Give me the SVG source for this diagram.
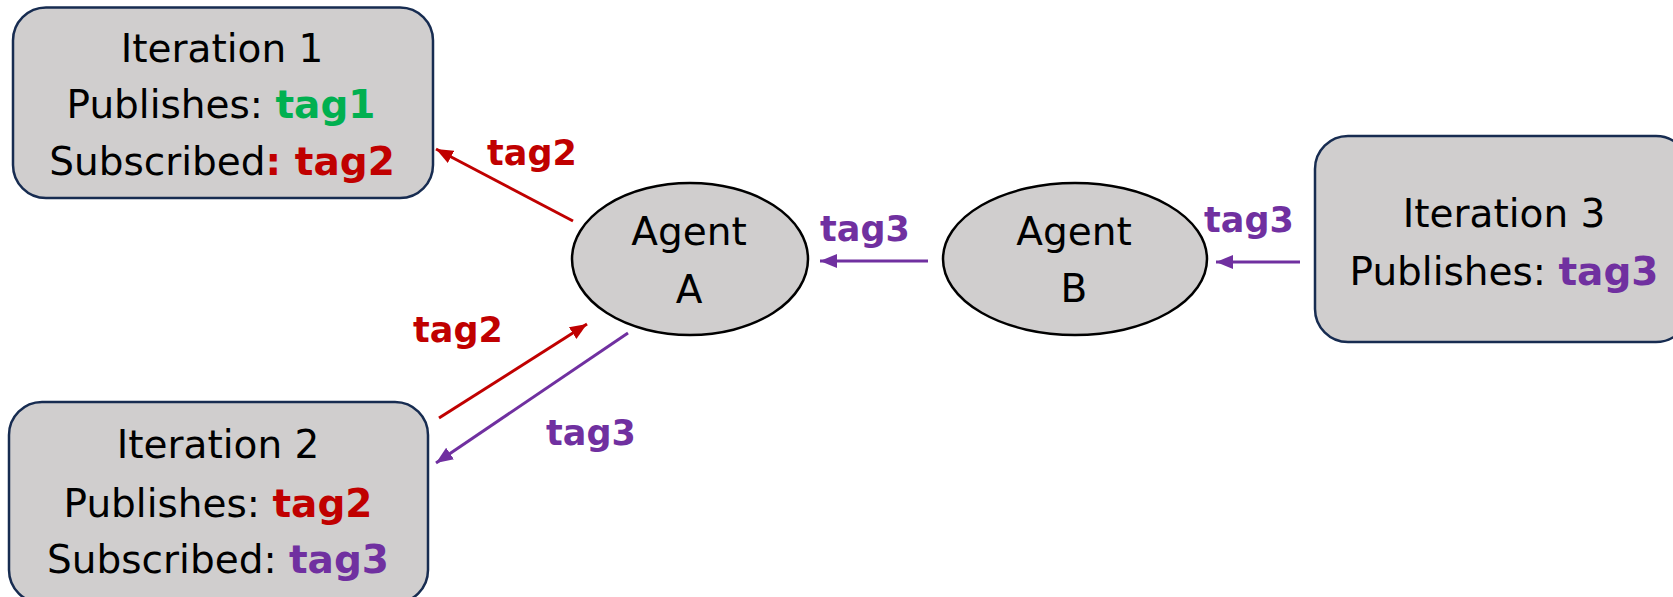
<svg xmlns="http://www.w3.org/2000/svg" width="1673" height="597" viewBox="0 0 1673 597">
  <style>
    .box { fill: #D0CECE; stroke: #172C51; stroke-width: 2.5; }
    .agent { fill: #D0CECE; stroke: #000000; stroke-width: 2.5; }
    .txt { font-family: "DejaVu Sans", "Liberation Sans", sans-serif; font-size: 39px; fill: #000000; text-anchor: middle; }
    .tag { font-family: "DejaVu Sans", "Liberation Sans", sans-serif; font-weight: bold; }
    .lbl { font-family: "DejaVu Sans", "Liberation Sans", sans-serif; font-weight: bold; font-size: 35px; text-anchor: middle; }
    .green { fill: #00B050; }
    .red { fill: #C00000; }
    .purple { fill: #7030A0; }
    .edge { fill: none; stroke-width: 3; }
    .edge-red { stroke: #C00000; marker-end: url(#head-red); }
    .edge-purple { stroke: #7030A0; marker-end: url(#head-purple); }
  </style>
  <defs>
    <marker id="head-red" markerUnits="userSpaceOnUse" markerWidth="18" markerHeight="16" refX="17" refY="8" orient="auto">
      <path d="M0,1 L17,8 L0,15 Z" fill="#C00000"/>
    </marker>
    <marker id="head-purple" markerUnits="userSpaceOnUse" markerWidth="18" markerHeight="16" refX="17" refY="8" orient="auto">
      <path d="M0,1 L17,8 L0,15 Z" fill="#7030A0"/>
    </marker>
  </defs>

  <rect width="1673" height="597" fill="#FFFFFF"/>

  <!-- Connectors and their tag labels -->
  <g id="connectors">
    <line class="edge edge-red" x1="573" y1="221" x2="436" y2="149"/>
    <line class="edge edge-red" x1="439" y1="418" x2="587" y2="324"/>
    <line class="edge edge-purple" x1="628" y1="333" x2="436" y2="463"/>
    <line class="edge edge-purple" x1="928" y1="261" x2="820" y2="261"/>
    <line class="edge edge-purple" x1="1300" y1="262" x2="1216" y2="262"/>
    <text class="lbl red" x="532" y="165">tag2</text>
    <text class="lbl red" x="458" y="342">tag2</text>
    <text class="lbl purple" x="591" y="445">tag3</text>
    <text class="lbl purple" x="865" y="241">tag3</text>
    <text class="lbl purple" x="1249" y="232">tag3</text>
  </g>

  <!-- Iteration 1 -->
  <g id="iteration1">
    <rect class="box" x="13" y="7.5" width="420" height="190.5" rx="33" ry="33"/>
    <text class="txt" x="222" y="62">Iteration 1</text>
    <text class="txt" x="221" y="118">Publishes: <tspan class="tag green">tag1</tspan></text>
    <text class="txt" x="222" y="175">Subscribed<tspan class="tag red">: tag2</tspan></text>
  </g>

  <!-- Iteration 2 -->
  <g id="iteration2">
    <rect class="box" x="9" y="402" width="419" height="201" rx="33" ry="33"/>
    <text class="txt" x="218" y="458">Iteration 2</text>
    <text class="txt" x="218" y="517">Publishes: <tspan class="tag red">tag2</tspan></text>
    <text class="txt" x="218" y="573">Subscribed: <tspan class="tag purple">tag3</tspan></text>
  </g>

  <!-- Iteration 3 -->
  <g id="iteration3">
    <rect class="box" x="1315" y="136" width="374" height="206" rx="33" ry="33"/>
    <text class="txt" x="1504" y="227">Iteration 3</text>
    <text class="txt" x="1504" y="285">Publishes: <tspan class="tag purple">tag3</tspan></text>
  </g>

  <!-- Agent A -->
  <g id="agentA">
    <ellipse class="agent" cx="690" cy="259" rx="118" ry="76"/>
    <text class="txt" x="689" y="245">Agent</text>
    <text class="txt" x="689" y="303">A</text>
  </g>

  <!-- Agent B -->
  <g id="agentB">
    <ellipse class="agent" cx="1075" cy="259" rx="132" ry="76"/>
    <text class="txt" x="1074" y="245">Agent</text>
    <text class="txt" x="1074" y="302">B</text>
  </g>
</svg>
